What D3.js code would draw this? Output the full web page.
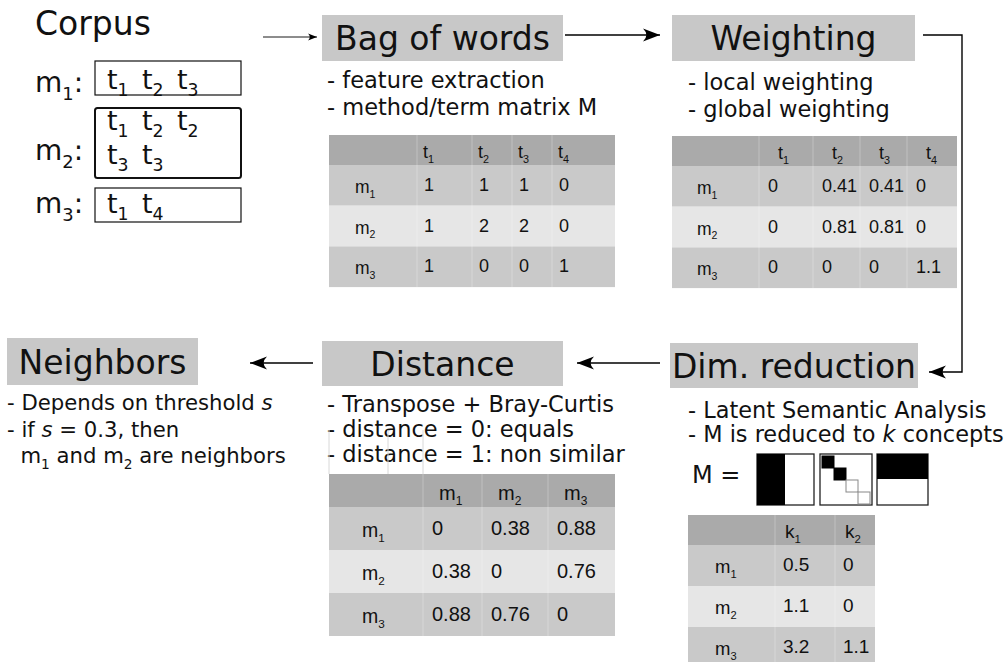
<!DOCTYPE html>
<html><head><meta charset="utf-8">
<script src="https://cdn.jsdelivr.net/npm/d3@7"></script>
<style>body{margin:0;background:#fff}svg{display:block}text{white-space:pre}</style>
</head><body>
<script>
// ---------- data ----------
const corpusTitle = "Corpus";
const corpusLabels = ["m_1", "m_2", "m_3"];
const corpusTokens = [["t_1","t_2","t_3"], ["t_1","t_2","t_2","t_3","t_3"], ["t_1","t_4"]];
const stepTitles = ["Bag of words", "Weighting", "Dim. reduction", "Distance", "Neighbors"];
const bowNotes = ["- feature extraction", "- method/term matrix M"];
const weightNotes = ["- local weighting", "- global weighting"];
const lsaNotes = ["- Latent Semantic Analysis", "- M is reduced to *k* concepts"];
const distNotes = ["- Transpose + Bray-Curtis", "- distance = 0: equals", "- distance = 1: non similar"];
const neighborNotes = ["- Depends on threshold *s*", "- if *s* = 0.3, then", "  m_1 and m_2 are neighbors"];
const docRows = ["m_1", "m_2", "m_3"];
const termColumns = ["t_1", "t_2", "t_3", "t_4"];
const bowMatrix = [["1","1","1","0"], ["1","2","2","0"], ["1","0","0","1"]];
const weightMatrix = [["0","0.41","0.41","0"], ["0","0.81","0.81","0"], ["0","0","0","1.1"]];
const conceptColumns = ["k_1", "k_2"];
const lsaMatrix = [["0.5","0"], ["1.1","0"], ["3.2","1.1"]];
const distColumns = ["m_1", "m_2", "m_3"];
const distMatrix = [["0","0.38","0.88"], ["0.38","0","0.76"], ["0.88","0.76","0"]];
// SVD factor glyphs: U (left half filled), Sigma (diagonal kept/dropped), V^T (top half filled)
const sigmaDiag = [1, 1, 0, 0];

// ---------- helpers ----------
const W = 1008, H = 662;
const svg = d3.select("body").append("svg").attr("width", W).attr("height", H);
const SANS = "DejaVu Sans, Verdana, sans-serif";
const ARIAL = "Liberation Sans, Arial, sans-serif";

function rich(textSel, str, size, subRatio = 0.62) {
  const parts = str.split(/(\*[^*]+\*|_\d)/).filter(p => p !== "");
  const shift = size * 0.27;
  let shifted = false;
  parts.forEach(p => {
    const t = textSel.append("tspan");
    if (p.startsWith("_")) {
      t.text(p.slice(1)).attr("font-size", size * subRatio).attr("dy", shift);
      shifted = true;
    } else {
      if (shifted) { t.attr("dy", -shift); shifted = false; }
      if (p.startsWith("*")) t.attr("font-style", "italic").text(p.slice(1, -1));
      else t.text(p);
    }
  });
  return textSel;
}

const defs = svg.append("defs");
function marker(id, len, half) {
  defs.append("marker").attr("id", id)
    .attr("markerUnits", "userSpaceOnUse")
    .attr("viewBox", `${-len - 1} ${-half - 1} ${len + 2} ${2 * half + 2}`)
    .attr("markerWidth", len + 2).attr("markerHeight", 2 * half + 2)
    .attr("refX", 0).attr("refY", 0).attr("orient", "auto")
    .append("path")
    .attr("d", `M0,0 L${-len},${-half} Q${-len * 0.6},0 ${-len},${half} Z`)
    .attr("fill", "#000");
}
marker("big", 17, 6.5);
marker("small", 9, 3.5);

function arrow(points, big = true) {
  svg.append("path")
    .attr("d", d3.line()(points))
    .attr("fill", "none").attr("stroke", "#000")
    .attr("stroke-width", big ? 1.4 : 0.9)
    .attr("marker-end", `url(#${big ? "big" : "small"})`);
}

function titleBox(label, box) {
  svg.append("rect").attr("x", box.x).attr("y", box.y).attr("width", box.w).attr("height", box.h)
    .attr("fill", "#c8c8c8");
  svg.append("text").attr("x", box.x + box.w / 2).attr("y", box.y + box.h / 2 + 12)
    .attr("text-anchor", "middle").attr("font-family", SANS).attr("font-size", 33)
    .attr("fill", "#111").text(label);
}

function notes(lines, cfg) {
  const y = d3.scalePoint().domain(d3.range(lines.length)).range([cfg.y0, cfg.y1]);
  lines.forEach((l, i) => {
    const t = svg.append("text").attr("x", cfg.x).attr("y", y(i))
      .attr("font-family", SANS).attr("font-size", cfg.size).attr("fill", "#111");
    rich(t, l, cfg.size, 0.65);
  });
}

function table(cfg, cols, rows, matrix) {
  const g = svg.append("g");
  const keys = ["__label", ...cols];
  const starts = [0, ...d3.cumsum(cfg.widths)].slice(0, keys.length);
  const totalW = d3.sum(cfg.widths);
  const x = d3.scaleOrdinal().domain(keys).range(starts.map(s => cfg.x + s));
  const y = d3.scaleBand().domain(rows)
    .range([cfg.y + cfg.headerH, cfg.y + cfg.headerH + rows.length * cfg.rowH]);
  g.append("rect").attr("x", cfg.x).attr("y", cfg.y).attr("width", totalW).attr("height", cfg.headerH)
    .attr("fill", "#aaaaaa");
  rows.forEach((r, i) => {
    g.append("rect").attr("x", cfg.x).attr("y", y(r)).attr("width", totalW).attr("height", y.bandwidth())
      .attr("fill", i % 2 === 1 ? "#e6e6e6" : "#c9c9c9");
  });
  keys.slice(1).forEach(k => {
    g.append("line").attr("x1", x(k)).attr("x2", x(k))
      .attr("y1", cfg.y).attr("y2", y.range()[1])
      .attr("stroke", "#ffffff").attr("stroke-opacity", 0.28).attr("stroke-width", 1);
  });
  cols.forEach(c => {
    const t = g.append("text").attr("x", x(c) + cfg.headPad).attr("y", cfg.y + cfg.headerH - 7)
      .attr("font-family", ARIAL).attr("font-size", cfg.font + 1).attr("fill", "#111");
    rich(t, c, cfg.font + 1, 0.6);
  });
  rows.forEach((r, i) => {
    const base = y(r) + y.bandwidth() / 2 + cfg.font * 0.33;
    const t = g.append("text").attr("x", cfg.x + cfg.labelPad).attr("y", base + 2)
      .attr("font-family", ARIAL).attr("font-size", cfg.font + 0.5).attr("fill", "#111");
    rich(t, r, cfg.font + 0.5, 0.6);
    cols.forEach((c, j) => {
      g.append("text").attr("x", x(c) + cfg.valPad).attr("y", base)
        .attr("font-family", ARIAL).attr("font-size", cfg.font + 1).attr("fill", "#111")
        .text(matrix[i][j]);
    });
  });
}

// ---------- Corpus ----------
svg.append("text").attr("x", 35).attr("y", 35).attr("font-family", SANS).attr("font-size", 33)
  .attr("fill", "#111").text(corpusTitle);

const corpusLayout = [
  { labelY: 92, box: { x: 95, y: 61, w: 146, h: 34 }, lines: [[0, 3, 89]], sw: 1.2 },
  { labelY: 160, box: { x: 95, y: 108, w: 146, h: 70 }, lines: [[0, 3, 130], [3, 5, 164]], sw: 2 },
  { labelY: 213, box: { x: 95, y: 188, w: 146, h: 34 }, lines: [[0, 2, 213]], sw: 1.2 }
];
const tokX = d3.scaleLinear().domain([0, 1]).range([107, 142]);
corpusLabels.forEach((lab, i) => {
  const L = corpusLayout[i];
  const t = svg.append("text").attr("x", 35).attr("y", L.labelY).attr("font-family", SANS)
    .attr("font-size", 28).attr("fill", "#111");
  rich(t, lab + ":", 28, 0.64);
  svg.append("rect").attr("x", L.box.x).attr("y", L.box.y).attr("width", L.box.w).attr("height", L.box.h)
    .attr("rx", L.sw > 1.5 ? 2.5 : 0)
    .attr("fill", "none").attr("stroke", "#111").attr("stroke-width", L.sw);
  L.lines.forEach(([a, b, by]) => {
    corpusTokens[i].slice(a, b).forEach((tok, k) => {
      const tt = svg.append("text").attr("x", tokX(k)).attr("y", by).attr("font-family", SANS)
        .attr("font-size", 27).attr("fill", "#111");
      rich(tt, tok, 27, 0.64);
    });
  });
});

// ---------- Title boxes ----------
const boxes = [
  { x: 322, y: 15, w: 241, h: 46 },
  { x: 672, y: 15, w: 243, h: 46 },
  { x: 670, y: 343, w: 248, h: 45 },
  { x: 322, y: 341, w: 241, h: 45 },
  { x: 7, y: 338, w: 191, h: 47 }
];
stepTitles.forEach((s, i) => titleBox(s, boxes[i]));

// ---------- Arrows ----------
arrow([[263, 37], [317, 37]], false);
arrow([[565, 35], [660, 35]]);
arrow([[923, 35], [962, 35], [962, 372], [929, 372]]);
arrow([[660, 363], [577, 363]]);
arrow([[313, 363], [250, 363]]);

// ---------- Notes ----------
notes(bowNotes, { x: 327, y0: 88, y1: 115, size: 22.5 });
notes(weightNotes, { x: 688, y0: 90, y1: 117, size: 22.5 });
notes(lsaNotes, { x: 688, y0: 418, y1: 442, size: 22.4 });
notes(distNotes, { x: 327, y0: 412, y1: 462, size: 22.5 });
notes(neighborNotes, { x: 7, y0: 410, y1: 463, size: 21.2 });

// faint guide lines above distance table
[329, 388, 423].forEach(xx => svg.append("line").attr("x1", xx).attr("x2", xx).attr("y1", 430).attr("y2", 474)
  .attr("stroke", "#d8d8d8").attr("stroke-width", 1));

// ---------- Tables ----------
table({ x: 329, y: 135, widths: [88, 55, 40, 40, 63], headerH: 30, rowH: 40.7, font: 17, headPad: 6, valPad: 7, labelPad: 26 },
  termColumns, docRows, bowMatrix);
table({ x: 672, y: 136, widths: [87, 54, 47, 47, 50], headerH: 30, rowH: 40.7, font: 17, headPad: 19, valPad: 9, labelPad: 25 },
  termColumns, docRows, weightMatrix);
table({ x: 329, y: 474, widths: [94, 59, 66, 67], headerH: 33, rowH: 43, font: 19, headPad: 16, valPad: 9, labelPad: 33 },
  distColumns, docRows, distMatrix);
table({ x: 688, y: 515, widths: [87, 60, 40], headerH: 30, rowH: 41, font: 18, headPad: 10, valPad: 8, labelPad: 27 },
  conceptColumns, docRows, lsaMatrix);

// ---------- M = U S V ----------
svg.append("text").attr("x", 692).attr("y", 483).attr("font-family", SANS).attr("font-size", 24)
  .attr("fill", "#111").text("M =");
const fy = 454, fh = 51;
svg.append("rect").attr("x", 757).attr("y", fy).attr("width", 57).attr("height", fh).attr("fill", "#fff")
  .attr("stroke", "#222").attr("stroke-width", 1.3);
svg.append("rect").attr("x", 757).attr("y", fy).attr("width", 28).attr("height", fh).attr("fill", "#000");
svg.append("rect").attr("x", 820).attr("y", fy).attr("width", 52).attr("height", fh).attr("fill", "#fff")
  .attr("stroke", "#222").attr("stroke-width", 1.3);
const dx = d3.scaleBand().domain(d3.range(sigmaDiag.length)).range([822, 870]);
const dy = d3.scaleBand().domain(d3.range(sigmaDiag.length)).range([456, 504]);
sigmaDiag.forEach((v, i) => {
  svg.append("rect").attr("x", dx(i)).attr("y", dy(i)).attr("width", dx.bandwidth()).attr("height", dy.bandwidth())
    .attr("fill", v ? "#000" : "#fff").attr("stroke", v ? "#000" : "#888").attr("stroke-width", 1);
});
svg.append("rect").attr("x", 877).attr("y", fy).attr("width", 51).attr("height", fh).attr("fill", "#fff")
  .attr("stroke", "#222").attr("stroke-width", 1.3);
svg.append("rect").attr("x", 877).attr("y", fy).attr("width", 51).attr("height", 25).attr("fill", "#000");
</script>
</body></html>
